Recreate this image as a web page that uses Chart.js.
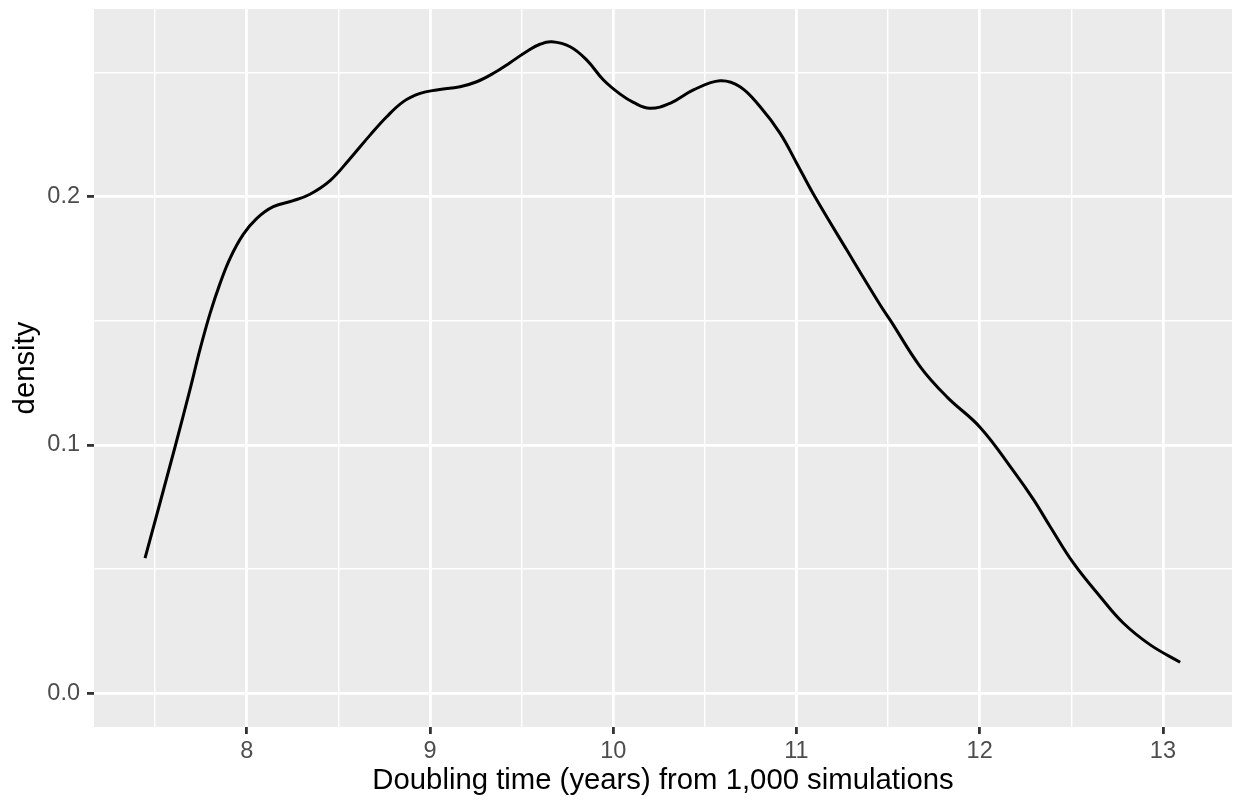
<!DOCTYPE html>
<html>
<head>
<meta charset="utf-8">
<title>Doubling time density</title>
<script src="https://cdn.jsdelivr.net/npm/chart.js@4/dist/chart.umd.min.js"></script>
<style>
  html, body { margin: 0; padding: 0; background: #ffffff; }
  #wrap { width: 1235px; height: 800px; }
</style>
</head>
<body>
<div id="wrap"><canvas id="chart" width="1235" height="800"></canvas></div>
<script>
// Kernel density of doubling time (years) over 1,000 simulations
const doublingYears = [
  7.445, 7.609, 7.691, 7.745, 7.800, 7.854, 7.909, 7.981, 8.055, 8.145,
  8.254, 8.345, 8.455, 8.560, 8.673, 8.764, 8.855, 8.946, 9.037, 9.164,
  9.255, 9.346, 9.437, 9.528, 9.600, 9.665, 9.765, 9.856, 9.947, 10.038,
  10.110, 10.200, 10.310, 10.438, 10.583, 10.692, 10.802, 10.911, 11.002, 11.093,
  11.275, 11.457, 11.512, 11.676, 11.821, 12.004, 12.185, 12.294, 12.385, 12.512,
  12.658, 12.785, 12.931, 13.094
];
const densityValues = [
  0.0544, 0.0993, 0.1225, 0.1385, 0.1530, 0.1650, 0.1752, 0.1848, 0.1913, 0.1960,
  0.1984, 0.2010, 0.2065, 0.2150, 0.2248, 0.2322, 0.2383, 0.2416, 0.2430, 0.2443,
  0.2463, 0.2497, 0.2540, 0.2585, 0.2614, 0.2624, 0.2604, 0.2550, 0.2470, 0.2413,
  0.2380, 0.2356, 0.2376, 0.2430, 0.2467, 0.2443, 0.2362, 0.2255, 0.2134, 0.2010,
  0.1785, 0.1564, 0.1503, 0.1315, 0.1194, 0.1070, 0.0895, 0.0780, 0.0671, 0.0524,
  0.0389, 0.0282, 0.0195, 0.0125
];

// Axis ticks: labelled breaks and unlabelled minor breaks
const xMajorTicks = [8, 9, 10, 11, 12, 13];
const xMajorLabels = ['8', '9', '10', '11', '12', '13'];
const xMinorTicks = [7.5, 8.5, 9.5, 10.5, 11.5, 12.5];
const yMajorTicks = [0, 0.1, 0.2];
const yMajorLabels = ['0.0', '0.1', '0.2'];
const yMinorTicks = [0.05, 0.15, 0.25];

const xLimits = [7.1665, 13.377];
const yLimits = [-0.01357, 0.2756];

const FONT = '"Liberation Sans", Arial, Helvetica, sans-serif';
const PANEL_BG = '#EBEBEB';

const isMajor = (list, v) => list.some(t => Math.abs(t - v) < 1e-9);
const labelFor = (list, labels, v) => {
  const i = list.findIndex(t => Math.abs(t - v) < 1e-9);
  return i >= 0 ? labels[i] : '';
};

const panelBackground = {
  id: 'panelBackground',
  beforeDraw(chart) {
    const { ctx, chartArea: a } = chart;
    ctx.save();
    ctx.fillStyle = PANEL_BG;
    ctx.fillRect(a.left, a.top, a.right - a.left, a.bottom - a.top);
    ctx.restore();
  }
};

function gridOptions(majorList) {
  return {
    color: '#FFFFFF',
    lineWidth: ctx => isMajor(majorList, ctx.tick.value) ? 2.8 : 1.4,
    drawTicks: true,
    tickLength: 7,
    tickWidth: 2.8,
    tickColor: ctx => isMajor(majorList, ctx.tick.value) ? '#333333' : 'rgba(0,0,0,0)'
  };
}

new Chart(document.getElementById('chart'), {
  type: 'line',
  data: {
    datasets: [{
      data: doublingYears.map((x, i) => ({ x, y: densityValues[i] })),
      borderColor: '#000000',
      borderWidth: 3,
      pointRadius: 0,
      fill: false,
      tension: 0.4
    }]
  },
  options: {
    responsive: false,
    animation: false,
    layout: { padding: { top: 9, right: 3, left: 0, bottom: 0 } },
    plugins: { legend: { display: false }, tooltip: { enabled: false } },
    scales: {
      x: {
        type: 'linear',
        min: xLimits[0],
        max: xLimits[1],
        afterBuildTicks: s => {
          s.ticks = [...xMinorTicks, ...xMajorTicks].sort((a, b) => a - b).map(v => ({ value: v }));
        },
        afterFit: s => { s.height = 73; s.paddingLeft = 0; s.paddingRight = 0; },
        grid: gridOptions(xMajorTicks),
        border: { display: false },
        ticks: {
          autoSkip: false,
          maxRotation: 0,
          padding: 3.6,
          color: '#4D4D4D',
          font: { family: FONT, size: 23.5 },
          callback: v => labelFor(xMajorTicks, xMajorLabels, v)
        },
        title: {
          display: true,
          text: 'Doubling time (years) from 1,000 simulations',
          color: '#000000',
          font: { family: FONT, size: 29.3 },
          padding: { top: 0, bottom: 2 }
        }
      },
      y: {
        type: 'linear',
        min: yLimits[0],
        max: yLimits[1],
        afterBuildTicks: s => {
          s.ticks = [...yMajorTicks, ...yMinorTicks].sort((a, b) => a - b).map(v => ({ value: v }));
        },
        afterFit: s => { s.width = 94; s.paddingTop = 0; s.paddingBottom = 0; },
        grid: gridOptions(yMajorTicks),
        border: { display: false },
        ticks: {
          autoSkip: false,
          padding: 7,
          color: '#4D4D4D',
          font: { family: FONT, size: 23.5 },
          callback: v => labelFor(yMajorTicks, yMajorLabels, v)
        },
        title: {
          display: true,
          text: 'density',
          color: '#000000',
          font: { family: FONT, size: 29.3 },
          padding: { top: 8, bottom: 0 }
        }
      }
    }
  },
  plugins: [panelBackground]
});
</script>
</body>
</html>
